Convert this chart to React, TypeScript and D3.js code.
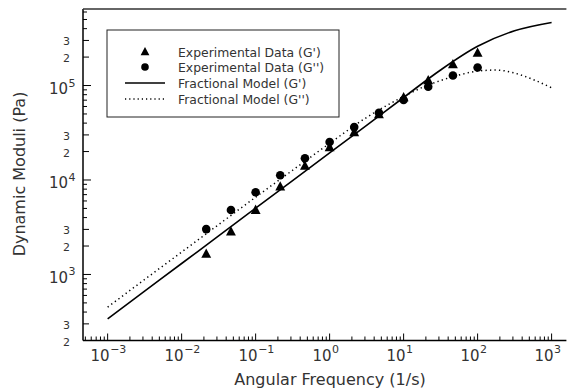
import React from "react";
import * as d3 from "d3";

// ---- data ----
const freqExp = [0.0215, 0.0464, 0.1, 0.215, 0.464, 1, 2.15, 4.64, 10, 21.5, 46.4, 100];
const gPrimeExp = [1644, 2830, 4795, 8490, 14070, 22160, 31900, 49400, 74700, 113000, 166700, 221000];
const gDoublePrimeExp = [3020, 4820, 7430, 11220, 16980, 25200, 36300, 51500, 70300, 96900, 127500, 155000];

const freqModelG1 = [0.001, 0.00316, 0.01, 0.0316, 0.1, 0.316, 1, 3.16, 10, 31.6, 100, 316, 1000];
const gPrimeModel = [339, 665, 1306, 2559, 5035, 9860, 19400, 37860, 74700, 146100, 260200, 380000, 465600];

const freqModelG2 = [0.001, 0.00316, 0.01, 0.0316, 0.1, 0.316, 1, 3.16, 10, 17.8, 31.6, 56.2, 100, 178, 316, 562, 1000];
const gDoublePrimeModel = [451, 885, 1726, 3373, 6577, 12680, 24430, 45900, 76600, 95200, 112900, 129100, 142300, 145800, 135500, 115700, 94600];

const xMajorExps = [-3, -2, -1, 0, 1, 2, 3];
const yMajorExps = [3, 4, 5];
const yLabeledMinor = [2, 3];

const legendLabels = [
  "Experimental Data (G')",
  "Experimental Data (G'')",
  "Fractional Model (G')",
  "Fractional Model (G'')",
];

const xTitle = "Angular Frequency (1/s)";
const yTitle = "Dynamic Moduli (Pa)";

const W = 567;
const H = 391;
const FONT = "'DejaVu Sans', sans-serif";
const TXT = "#333";

export default function App() {
  const x = d3.scaleLog().domain([Math.pow(10, -3.333), Math.pow(10, 3.2)]).range([83, 566.4]);
  const y = d3.scaleLog().domain([200, Math.pow(10, 5.81)]).range([340.5, 9]);

  const [x0, x1] = x.range();
  const [yb, yt] = y.range();

  const xTicks: { v: number; major: boolean }[] = [];
  for (let d = -4; d <= 3; d++) {
    for (let m = 1; m <= 9; m++) {
      const v = m * Math.pow(10, d);
      if (v >= x.domain()[0] && v <= x.domain()[1]) xTicks.push({ v, major: m === 1 });
    }
  }
  const yTicks: { v: number; kind: number; m: number; d: number }[] = [];
  for (let d = 2; d <= 5; d++) {
    for (let m = 1; m <= 9; m++) {
      const v = m * Math.pow(10, d);
      if (v >= y.domain()[0] * 0.999 && v <= y.domain()[1]) {
        yTicks.push({ v, kind: m === 1 ? 2 : yLabeledMinor.includes(m) ? 1 : 0, m, d });
      }
    }
  }

  const line = d3
    .line<[number, number]>()
    .x((p) => x(p[0]))
    .y((p) => y(p[1]))
    .curve(d3.curveMonotoneX);

  const g1Path = line(freqModelG1.map((f, i) => [f, gPrimeModel[i]]) as [number, number][]) || "";
  const g2Path = line(freqModelG2.map((f, i) => [f, gDoublePrimeModel[i]]) as [number, number][]) || "";

  const tri = (cx: number, cy: number, s: number) =>
    `M${cx},${cy - s * 0.62} L${cx + s * 0.55},${cy + s * 0.42} L${cx - s * 0.55},${cy + s * 0.42} Z`;

  const lg = { x: 107, y: 30, w: 232, h: 87 };
  const legendRows = [52, 67, 83, 99];

  return (
    <svg width={W} height={H} style={{ position: "absolute", left: 0, top: 0, background: "#fff" }}>
      <rect x={0} y={0} width={W} height={H} fill="#fff" />
      {/* axes */}
      <line x1={x0} y1={yb} x2={x1} y2={yb} stroke="#000" strokeWidth={1.5} />
      <line x1={x0} y1={yb} x2={x0} y2={yt} stroke="#000" strokeWidth={1.5} />
      <line x1={x0} y1={yt} x2={x1} y2={yt} stroke="#333" strokeWidth={1.3} />

      {/* x ticks */}
      {xTicks.map((t, i) => (
        <line key={"xt" + i} x1={x(t.v)} x2={x(t.v)} y1={yb} y2={yb - (t.major ? 7 : 4)} stroke="#000" strokeWidth={1} />
      ))}
      {xMajorExps.map((e) => {
        const px = x(Math.pow(10, e));
        return (
          <g key={"xl" + e} fontFamily={FONT} fill={TXT}>
            <text x={px + 2} y={361} fontSize={15} textAnchor="end">10</text>
            <text x={px + 2.5} y={352.5} fontSize={11} textAnchor="start">{e < 0 ? "\u2212" + Math.abs(e) : String(e)}</text>
          </g>
        );
      })}

      {/* y ticks */}
      {yTicks.map((t, i) => (
        <line key={"yt" + i} x1={x0} x2={x0 + (t.kind === 2 ? 8 : t.kind === 1 ? 6 : 4)} y1={y(t.v)} y2={y(t.v)} stroke="#000" strokeWidth={1} />
      ))}
      {yTicks
        .filter((t) => t.kind === 1)
        .map((t, i) => (
          <text key={"ym" + i} x={70} y={y(t.v) + 5} fontSize={11} textAnchor="end" fontFamily={FONT} fill={TXT}>
            {t.m}
          </text>
        ))}
      {yMajorExps.map((e) => {
        const py = y(Math.pow(10, e));
        return (
          <g key={"yl" + e} fontFamily={FONT} fill={TXT}>
            <text x={68} y={py + 8.5} fontSize={15} textAnchor="end">10</text>
            <text x={68.5} y={py + 1} fontSize={11} textAnchor="start">{String(e)}</text>
          </g>
        );
      })}

      {/* model curves */}
      <path d={g1Path} fill="none" stroke="#000" strokeWidth={1.6} />
      <path d={g2Path} fill="none" stroke="#000" strokeWidth={1.5} strokeDasharray="1.3,3.2" />

      {/* experimental data */}
      {freqExp.map((f, i) => (
        <path key={"tp" + i} d={tri(x(f), y(gPrimeExp[i]), 9)} fill="#000" />
      ))}
      {freqExp.map((f, i) => (
        <circle key={"cp" + i} cx={x(f)} cy={y(gDoublePrimeExp[i])} r={4.3} fill="#000" />
      ))}

      {/* legend */}
      <rect x={lg.x} y={lg.y} width={lg.w} height={lg.h} fill="#fff" stroke="#222" strokeWidth={1} />
      <path d={tri(145, legendRows[0], 8)} fill="#000" />
      <circle cx={145} cy={legendRows[1]} r={3.8} fill="#000" />
      <line x1={125} x2={165} y1={legendRows[2]} y2={legendRows[2]} stroke="#000" strokeWidth={1.5} />
      <line x1={125} x2={165} y1={legendRows[3]} y2={legendRows[3]} stroke="#000" strokeWidth={1.3} strokeDasharray="1.2,3" />
      {legendLabels.map((l, i) => (
        <text key={"lg" + i} x={178} y={legendRows[i] + 4.5} fontSize={12.4} fontFamily={FONT} fill={TXT}>
          {l}
        </text>
      ))}

      {/* titles */}
      <text x={330} y={385} fontSize={16} textAnchor="middle" fontFamily={FONT} fill={TXT}>
        {xTitle}
      </text>
      <text transform={`translate(25,174) rotate(-90)`} fontSize={16} textAnchor="middle" fontFamily={FONT} fill={TXT}>
        {yTitle}
      </text>
    </svg>
  );
}
